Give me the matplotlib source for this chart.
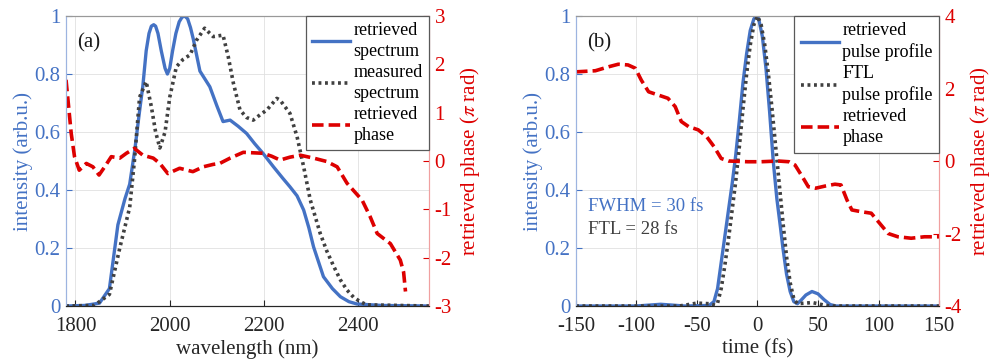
import matplotlib
matplotlib.use('Agg')
import matplotlib.pyplot as plt
from matplotlib.ticker import FuncFormatter
from matplotlib.lines import Line2D

plt.rcParams['font.family'] = ['Liberation Serif', 'DejaVu Serif']
plt.rcParams['mathtext.fontset'] = 'stix'
plt.rcParams['axes.unicode_minus'] = False

BLUE = '#4472C4'
GRAY = '#404040'
RED = '#DD0000'

# panel (a): spectra and spectral phase
wl_ret = [1780, 1820, 1851, 1872, 1890, 1905, 1915, 1926, 1935, 1943, 1950, 1956,
          1961, 1966, 1970, 1975, 1982, 1990, 1995, 2000, 2006, 2013, 2020, 2026,
          2032, 2038, 2044, 2050, 2064, 2085, 2100, 2113, 2128, 2145, 2163, 2180,
          2198, 2220, 2240, 2255, 2270, 2284, 2295, 2305, 2316, 2326, 2345, 2362,
          2380, 2397, 2450, 2550]
spec_ret = [0.0, 0.002, 0.01, 0.06, 0.28, 0.37, 0.42, 0.54, 0.66, 0.76, 0.88, 0.94,
            0.965, 0.97, 0.965, 0.94, 0.88, 0.82, 0.8, 0.82, 0.88, 0.94, 0.98, 0.996,
            1.0, 0.99, 0.96, 0.92, 0.81, 0.756, 0.69, 0.636, 0.641, 0.62, 0.595, 0.56,
            0.526, 0.48, 0.44, 0.411, 0.38, 0.331, 0.27, 0.204, 0.15, 0.101, 0.06, 0.032,
            0.015, 0.007, 0.002, 0.0]

wl_meas = [1780, 1840, 1872, 1894, 1915, 1925, 1936, 1950, 1961, 1970, 1979, 1990,
           2000, 2014, 2028, 2043, 2057, 2074, 2092, 2113, 2124, 2135, 2149, 2163,
           2177, 2192, 2206, 2227, 2234, 2255, 2270, 2284, 2298, 2319, 2333, 2348,
           2362, 2376, 2390, 2404, 2418, 2550]
spec_meas = [0.0, 0.002, 0.04, 0.2, 0.34, 0.5, 0.72, 0.774, 0.687, 0.6, 0.545, 0.6,
             0.72, 0.825, 0.85, 0.866, 0.917, 0.958, 0.929, 0.934, 0.86, 0.768, 0.676,
             0.65, 0.641, 0.66, 0.676, 0.716, 0.71, 0.664, 0.584, 0.48, 0.366, 0.251,
             0.19, 0.136, 0.09, 0.055, 0.03, 0.015, 0.004, 0.0]

wl_phase = [1780, 1791, 1798, 1808, 1823, 1837, 1850, 1862, 1876, 1894, 1908, 1925,
            1943, 1965, 1979, 1996, 2021, 2049, 2071, 2092, 2106, 2128, 2156, 2177,
            2198, 2216, 2234, 2255, 2277, 2305, 2333, 2355, 2376, 2408, 2425, 2440,
            2468, 2489, 2496, 2500]
phase_a = [1.68, 0.57, 0.09, -0.19, -0.05, -0.12, -0.29, -0.12, 0.09, 0.06, 0.16, 0.26,
           0.12, 0.06, -0.05, -0.26, -0.15, -0.22, -0.12, -0.07, -0.05, 0.06, 0.18, 0.17,
           0.16, 0.1, 0.02, 0.08, 0.12, 0.06, -0.01, -0.12, -0.46, -0.81, -1.15, -1.5,
           -1.71, -2.05, -2.3, -2.7]

# panel (b): temporal profiles and temporal phase
t_ret = [-150, -100, -90, -80, -70, -60, -40, -36, -33, -30, -27, -24, -21, -18, -15,
         -12, -9, -6, -3, -1, 1, 4, 7, 10, 13, 16, 19, 21, 24, 27, 30, 33, 36, 40,
         45, 50, 55, 60, 65, 150]
I_ret = [0.0, 0.0, 0.003, 0.006, 0.003, 0.0, 0.002, 0.015, 0.06, 0.15, 0.24, 0.33,
         0.42, 0.52, 0.64, 0.77, 0.87, 0.95, 0.99, 1.0, 0.99, 0.93, 0.82, 0.67, 0.5,
         0.37, 0.27, 0.2, 0.11, 0.05, 0.015, 0.008, 0.02, 0.038, 0.05, 0.042, 0.022,
         0.005, 0.0, 0.0]

t_ftl = [-150, -65, -60, -50, -40, -35, -33, -30, -27, -24, -21, -18, -15, -12, -9,
         -6, -3, 0, 3, 6, 9, 12, 15, 18, 21, 24, 27, 30, 33, 40, 45, 50, 55, 60, 150]
I_ftl = [0.0, 0.0, 0.003, 0.01, 0.008, 0.003, 0.01, 0.06, 0.14, 0.23, 0.33, 0.43,
         0.55, 0.68, 0.8, 0.9, 0.97, 1.0, 0.97, 0.9, 0.8, 0.68, 0.55, 0.42, 0.29,
         0.17, 0.08, 0.025, 0.008, 0.01, 0.012, 0.008, 0.003, 0.0, 0.0]

t_phase = [-150, -134, -123, -115, -107, -101, -96, -90, -82, -74, -68, -63, -57, -49,
           -42, -36, -30, -24, -8, 3, 17, 26, 31, 37, 42, 48, 56, 64, 69, 74, 78, 86,
           94, 101, 108, 116, 127, 138, 150]
phase_b = [2.46, 2.49, 2.6, 2.67, 2.65, 2.56, 2.23, 1.91, 1.82, 1.73, 1.5, 1.09, 0.95,
           0.86, 0.67, 0.4, 0.07, 0.0, -0.02, -0.02, 0.0, -0.02, -0.11, -0.43, -0.71,
           -0.75, -0.69, -0.64, -0.66, -1.08, -1.35, -1.4, -1.44, -1.72, -2.0, -2.09,
           -2.13, -2.09, -2.09]

fig = plt.figure(figsize=(9.9, 3.64), dpi=100)
fs = 15
DOT = (0, (0.8, 1.0))
DASH = (0, (3.2, 1.4))

def fmt(v, pos):
    return '%g' % v

def make_panel(rect, xlim, xticks, xlabel, ylim2, yticks2, label, lab1, lab2, series):
    ax = fig.add_axes(rect)
    ax2 = ax.twinx()
    (x1, y1), (x2, y2), (x3, y3) = series
    ax.plot(x1, y1, color=BLUE, lw=2.4, solid_joinstyle='round')
    ax.plot(x2, y2, color=GRAY, lw=2.6, ls=DOT)
    ax2.plot(x3, y3, color=RED, lw=2.6, ls=DASH)
    ax.set_xlim(*xlim)
    ax.set_ylim(0, 1)
    ax2.set_ylim(*ylim2)
    ax.set_xticks(xticks)
    ax.set_yticks([0, 0.2, 0.4, 0.6, 0.8, 1])
    ax2.set_yticks(yticks2)
    ax.yaxis.set_major_formatter(FuncFormatter(fmt))
    ax.grid(True, color='0.88', lw=0.6)
    ax.tick_params(axis='x', direction='in', length=4, labelsize=fs, colors='0.15', pad=8)
    ax.tick_params(axis='y', direction='in', length=4, labelsize=fs, colors=BLUE, pad=4)
    ax2.tick_params(axis='y', direction='in', length=4, labelsize=fs, colors=RED, pad=4)
    for a in (ax, ax2):
        a.spines['top'].set_color('0.6')
        a.spines['bottom'].set_color('0.15')
        a.spines['left'].set_color('#9DB4E0')
        a.spines['right'].set_color('#F0A0A0')
    ax.set_xlabel(xlabel, fontsize=fs, color='0.15', labelpad=2)
    ax.set_ylabel('intensity (arb.u.)', fontsize=fs, color=BLUE, labelpad=1)
    ax2.set_ylabel(r'retrieved phase ($\pi$ rad)', fontsize=fs, color=RED, labelpad=4)
    ax.text(0.03, 0.89, label, transform=ax.transAxes, fontsize=fs, color='0.1')
    handles = [Line2D([], [], color=BLUE, lw=2.4),
               Line2D([], [], color=GRAY, lw=2.6, ls=DOT),
               Line2D([], [], color=RED, lw=2.6, ls=DASH)]
    leg = ax2.legend(handles, [lab1, lab2, 'retrieved\nphase'], loc='upper right',
                     fontsize=13, frameon=True, fancybox=False, framealpha=1,
                     edgecolor='0.35', borderaxespad=0, borderpad=0.35,
                     handlelength=2.1, handletextpad=0.2, labelspacing=0.22)
    for t in leg.get_texts():
        t.set_linespacing(1.3)
    leg.get_frame().set_linewidth(0.9)
    return ax, ax2

ax_a, ax_a2 = make_panel([0.0667, 0.1593, 0.3667, 0.7967], (1780, 2550),
                         [1800, 2000, 2200, 2400], 'wavelength (nm)',
                         (-3, 3), [-3, -2, -1, 0, 1, 2, 3], '(a)',
                         'retrieved\nspectrum', 'measured\nspectrum',
                         [(wl_ret, spec_ret), (wl_meas, spec_meas), (wl_phase, phase_a)])

ax_b, ax_b2 = make_panel([0.5818, 0.1593, 0.3667, 0.7967], (-150, 150),
                         [-150, -100, -50, 0, 50, 100, 150], 'time (fs)',
                         (-4, 4), [-4, -2, 0, 2, 4], '(b)',
                         'retrieved\npulse profile', 'FTL\npulse profile',
                         [(t_ret, I_ret), (t_ftl, I_ftl), (t_phase, phase_b)])

ax_b.text(-140, 0.343, 'FWHM = 30 fs', fontsize=13.5, color=BLUE, va='center')
ax_b.text(-140, 0.264, 'FTL = 28 fs', fontsize=13.5, color=GRAY, va='center')

fig.savefig('out.png', dpi=100)
